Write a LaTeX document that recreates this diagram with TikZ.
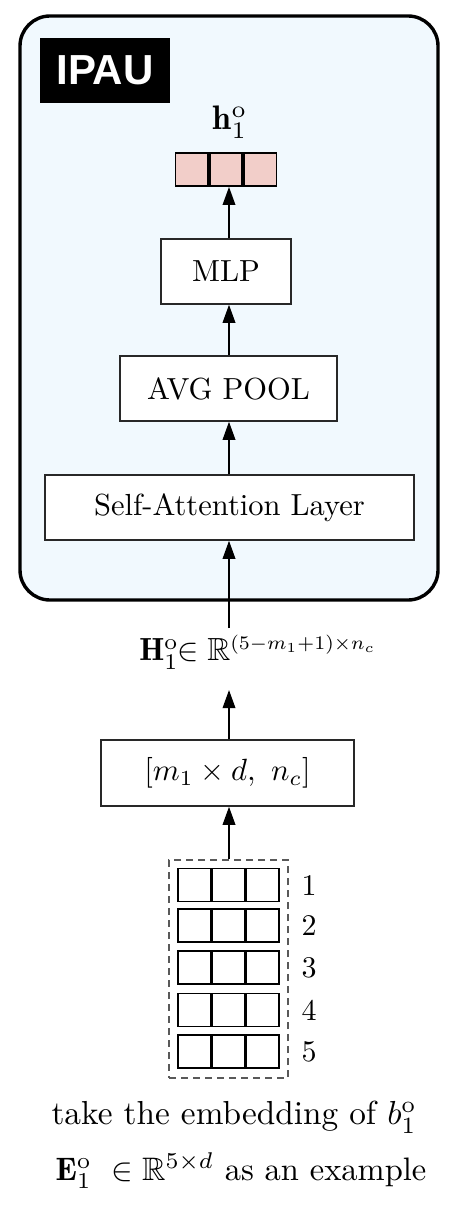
\documentclass[tikz,border=0pt]{standalone}
\usepackage{amsmath,amssymb}
\usepackage{fontspec}
\newfontfamily\ipaufont{Liberation Sans}
\usetikzlibrary{arrows.meta}
\definecolor{paneblue}{RGB}{241,249,254}
\definecolor{cellpink}{RGB}{242,206,201}
\definecolor{boxline}{RGB}{40,40,40}
\newcommand{\magtext}[2]{\scalebox{#1}{#2}}
\tikzset{
  blockbox/.style={draw=boxline, line width=1.5pt, fill=white, inner sep=0pt},
  cellbox/.style={draw=black, line width=1.8pt, minimum width=32.5pt, minimum height=33pt, inner sep=0pt},
  flow/.style={line width=1.8pt, -{Triangle[length=18pt,width=12.5pt]}},
  plain/.style={inner sep=0pt},
}
\begin{document}
\begin{tikzpicture}[x=1pt,y=-1pt]
\useasboundingbox (0,0) rectangle (459,1214);
\coordinate (col) at (229,0);
% outer pane
\draw[line width=3.4pt, fill=paneblue, rounded corners=30pt] (20,16) rectangle (438,600);
% IPAU tag
\node[fill=black, text=white, minimum width=130pt, minimum height=65pt, inner sep=0pt,
      font=\ipaufont\bfseries\fontsize{42}{48}\selectfont] (tag) at (105,70.5) {IPAU};
% output vector
\node[plain] (hlab) at (230,122) {\magtext{3.4}{$\mathbf{h}_1^{\mathrm{o}}$}};
\node[cellbox, fill=cellpink] (v2) at (226,169.5) {};
\node[cellbox, fill=cellpink, anchor=east] (v1) at (v2.west) {};
\node[cellbox, fill=cellpink, anchor=west] (v3) at (v2.east) {};
% blocks
\node[blockbox, minimum width=130pt, minimum height=65pt] (mlp) at (226,271.5) {\magtext{3.05}{MLP}};
\node[blockbox, minimum width=217pt, minimum height=65pt] (pool) at (228.5,388.5) {\magtext{3.05}{AVG POOL}};
\node[blockbox, minimum width=369pt, minimum height=65pt] (sal) at (229.5,507.5) {\magtext{3.05}{Self-Attention Layer}};
% H label
\node[plain] (hmat) at (258,652)
  {\magtext{3.2}{$\mathbf{H}_1^{\mathrm{o}}\!\!\in\mathbb{R}^{\scalebox{0.86}{$\scriptstyle(5-m_1+1)\times n_c$}}$}};
\coordinate (hin) at (229,628);
\coordinate (hout) at (229,690);
% conv block
\node[blockbox, minimum width=253pt, minimum height=66pt] (conv) at (227.5,773)
  {\magtext{3.07}{$[m_1\times d,\ n_c]$}};
% embedding matrix
\foreach \r/\yy in {1/885,2/925.5,3/967.5,4/1010,5/1051.5}{
  \node[cellbox] (e\r b) at (228.5,\yy) {};
  \node[cellbox, anchor=east] (e\r a) at (e\r b.west) {};
  \node[cellbox, anchor=west] (e\r c) at (e\r b.east) {};
  \node[plain] (n\r) at (309,\yy) {\magtext{3.0}{\r}};
}
\node[draw=black!65, dashed, dash pattern=on 7pt off 5pt, line width=1.5pt, inner sep=0pt,
      minimum width=119pt, minimum height=218pt] (emb) at (228.5,969) {};
% caption
\node[plain] (cap1) at (234,1117) {\magtext{3.33}{take the embedding of $b_1^{\mathrm{o}}$}};
\node[plain] (cap2) at (241,1171) {\magtext{3.25}{$\mathbf{E}_1^{\mathrm{o}}\ \in\mathbb{R}^{5\times d}$ as an example}};
% arrows
\draw[flow] (mlp.north -| col) -- (v2.south -| col);
\draw[flow] (pool.north -| col) -- (mlp.south -| col);
\draw[flow] (sal.north -| col) -- (pool.south -| col);
\draw[flow] (hin) -- (sal.south -| col);
\draw[flow] (conv.north -| col) -- (hout);
\draw[flow] (emb.north -| col) -- (conv.south -| col);
\end{tikzpicture}
\end{document}
